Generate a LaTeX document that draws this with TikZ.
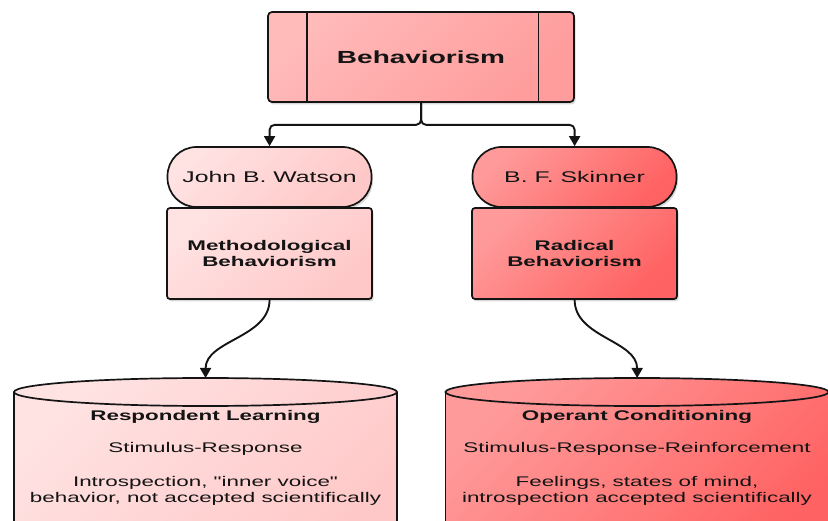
\documentclass[tikz,border=0pt]{standalone}
\usepackage{fontspec}
\setmainfont{Liberation Sans}[Ligatures=TeXOff]
\usetikzlibrary{arrows.meta}
\usetikzlibrary{calc}
\usetikzlibrary{shadows}
\definecolor{topA}{HTML}{FFBABA}
\definecolor{topB}{HTML}{FF9C9C}
\definecolor{lightA}{HTML}{FFE2E2}
\definecolor{lightB}{HTML}{FFC8C8}
\definecolor{darkA}{HTML}{FF9A9A}
\definecolor{darkB}{HTML}{FF6262}
\definecolor{ink}{HTML}{141414}
\newcommand{\headfont}{\fontsize{17.5}{20}\selectfont\bfseries}
\newcommand{\namefont}{\fontsize{15.5}{18}\selectfont}
\newcommand{\cylfont}{\fontsize{14}{16}\selectfont}
\tikzset{boxline/.style = {draw=ink, line width=1.7pt}}
\tikzset{softshadow/.style = {drop shadow={opacity=0.3, shadow xshift=1.5pt, shadow yshift=-2.5pt}}}
\tikzset{lightfill/.style = {top color=lightA, bottom color=lightB, shading angle=45}}
\tikzset{darkfill/.style = {top color=darkA, bottom color=darkB, shading angle=45}}
\tikzset{titlebox/.style = {boxline, softshadow, top color=topA, bottom color=topB, shading angle=45,
    rounded corners=4pt, minimum width=191.25pt, minimum height=90pt, font=\headfont, text=ink}}
\tikzset{pill/.style = {boxline, softshadow, rounded corners=29pt, minimum width=127.5pt,
    minimum height=60pt, font=\namefont, text=ink}}
\tikzset{blk/.style = {boxline, softshadow, rounded corners=3pt, minimum width=128.125pt,
    minimum height=91pt, align=center, font=\cylfont\bfseries, text=ink}}
\tikzset{cyltext/.style = {align=center, font=\cylfont, text=ink, inner sep=0}}
\tikzset{link/.style = {draw=ink, line width=1.9pt, -{Triangle[length=10pt, width=11pt]}}}

\begin{document}
\begin{tikzpicture}[x=0.625pt, y=1pt, xscale=1.6, transform shape]
  \useasboundingbox (0,0) rectangle (828,-521);
  % top box
  \node [titlebox] (behav) at (421,-57) {Behaviorism};
  \draw [boxline] ($(behav.north west)+(40,0)$) -- ($(behav.south west)+(40,0)$);
  \draw [boxline] ($(behav.north east)+(-37,0)$) -- ($(behav.south east)+(-37,0)$);
  % people and schools
  \node [pill, lightfill] (watson) at (269.5,-177) {John B. Watson};
  \node [pill, darkfill] (skinner) at (574.5,-177) {B. F. Skinner};
  \node [blk, lightfill] (method) at (269.5,-253.5) {Methodological\\Behaviorism};
  \node [blk, darkfill] (radical) at (574.5,-253.5) {Radical\\Behaviorism};
  % cylinders
  \foreach \cx/\ca/\cb in {205.5/lightA/lightB, 637/darkA/darkB} {
    \path [top color=\ca, bottom color=\cb, shading angle=45]
      ({\cx-191.5},-392) -- ({\cx-191.5},-560) -- ({\cx+191.5},-560) -- ({\cx+191.5},-392)
      arc [start angle=0, end angle=180, x radius=191.5, y radius=14] -- cycle;
    \draw [boxline] ({\cx-191.5},-392) -- ({\cx-191.5},-560);
    \draw [boxline] ({\cx+191.5},-392) -- ({\cx+191.5},-560);
    \draw [boxline] (\cx,-392) ellipse [x radius=191.5, y radius=14];
  }
  \coordinate (rlTop) at (205.5,-378);
  \coordinate (ocTop) at (637,-378);
  \node [cyltext, font=\cylfont\bfseries] (rlTitle) at (205.5,-417) {Respondent Learning};
  \node [cyltext] (rlSR) at (205.5,-449) {Stimulus-Response};
  \node [cyltext] (rlNote) at (205.5,-490.5) {Introspection, "inner voice"\\behavior, not accepted scientifically};
  \node [cyltext, font=\cylfont\bfseries] (ocTitle) at (637,-417) {Operant Conditioning};
  \node [cyltext] (ocSRR) at (637,-449) {Stimulus-Response-Reinforcement};
  \node [cyltext] (ocNote) at (637,-490.5) {Feelings, states of mind,\\introspection accepted scientifically};
  % connectors
  \draw [link, rounded corners=5pt] (behav.south) -- ++(0,-22) -| (watson.north);
  \draw [link, rounded corners=5pt] (behav.south) -- ++(0,-22) -| (skinner.north);
  \draw [link] (method.south) to [out=-90, in=90, looseness=1.1] (rlTop);
  \draw [link] (radical.south) to [out=-90, in=90, looseness=1.1] (ocTop);
\end{tikzpicture}
\end{document}
